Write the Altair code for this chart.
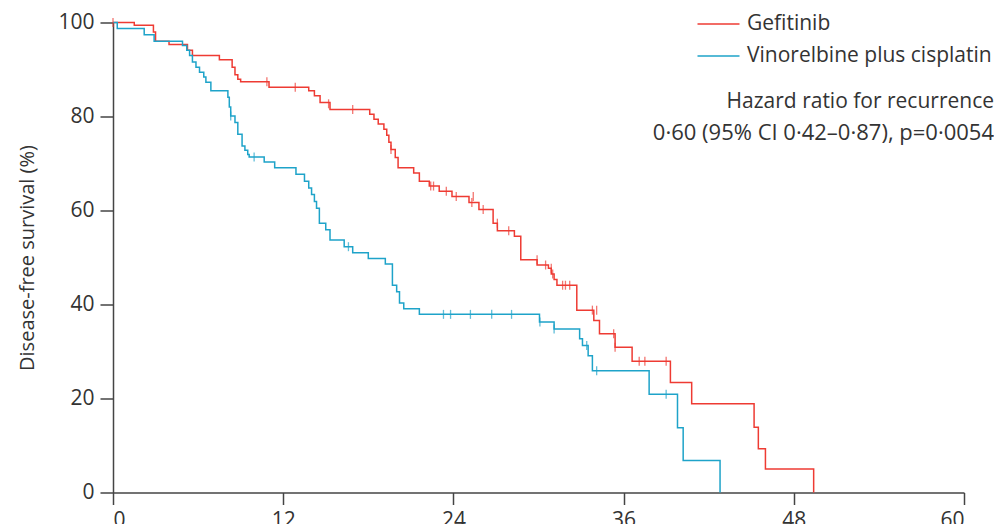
import altair as alt
import pandas as pd

# Kaplan-Meier step points (months, % disease-free)
gef_t = [0, 1.5, 2.85, 3.0, 3.95, 5.25, 5.6, 7.5, 8.4, 8.6, 8.8, 9.0, 11.0, 13.8, 14.2, 14.6, 15.3,
         18.1, 18.4, 18.7, 19.1, 19.3, 19.45, 19.6, 19.9, 20.1, 21.2, 21.6, 22.3, 23.0, 23.9, 25.1,
         25.8, 26.8, 27.1, 28.3, 28.75, 29.9, 30.7, 30.9, 31.1, 31.3, 32.7, 33.9, 34.3, 35.4, 36.6,
         39.3, 40.8, 45.2, 45.5, 46.0, 49.4]
gef_s = [100, 99.4, 98.0, 96.0, 95.3, 94.1, 93.0, 92.1, 90.5, 88.9, 87.9, 87.4, 86.2, 85.5, 84.4, 83.0, 81.5,
         80.5, 79.4, 78.4, 77.3, 76.0, 74.5, 73.0, 71.3, 69.1, 68.0, 66.2, 65.2, 64.1, 63.0, 61.7,
         60.2, 57.3, 55.7, 54.5, 49.5, 48.4, 47.7, 46.5, 45.3, 44.1, 38.8, 36.6, 33.8, 30.9, 27.9,
         23.4, 18.9, 13.9, 9.3, 5.0, 0]

vin_t = [0, 0.3, 2.2, 2.9, 4.9, 5.2, 5.4, 5.6, 5.85, 6.1, 6.4, 6.55, 6.9, 8.1, 8.2, 8.3, 8.6, 8.8,
         9.1, 9.3, 9.5, 9.6, 10.66, 11.4, 12.9, 13.5, 13.8, 14.0, 14.2, 14.35, 14.55, 15.0, 15.3,
         16.3, 16.9, 18.0, 19.2, 19.7, 20.0, 20.2, 20.5, 21.6, 30.07, 31.1, 32.9, 33.1, 33.5, 33.8,
         37.8, 39.8, 40.2, 42.8]
vin_s = [100, 98.7, 97.4, 96.0, 95.1, 94.1, 93.0, 91.6, 90.5, 89.4, 88.4, 87.3, 85.5, 84.1, 82.0, 80.1,
         78.7, 76.2, 73.7, 72.8, 71.9, 71.4, 70.3, 69.1, 67.7, 66.2, 64.8, 63.4, 61.9, 60.5, 57.3,
         55.9, 53.7, 52.3, 51.0, 49.8, 48.6, 44.1, 42.7, 40.3, 39.1, 37.9, 36.3, 34.8, 32.7, 31.3,
         29.1, 25.9, 20.9, 13.8, 6.8, 0]

# Censoring marks
gef_ct = [0, 10.85, 12.85, 15.2, 16.9, 19.6, 22.4, 22.6, 23.5, 24.2, 25.4, 25.3, 26.1, 27.1, 27.9,
          29.9, 30.5, 30.9, 31.0, 31.7, 31.9, 32.2, 33.8, 34.1, 35.3, 35.4, 37.1, 37.5, 39.0]
gef_cs = [100, 87.4, 86.2, 82.7, 81.5, 73.0, 65.2, 65.2, 64.1, 63.0, 63.0, 61.7, 60.2, 57.3, 55.7,
          49.5, 48.4, 47.7, 46.5, 44.1, 44.1, 44.1, 38.8, 38.8, 33.8, 30.9, 27.9, 27.9, 27.9]
vin_ct = [8.3, 9.95, 16.6, 23.3, 23.8, 25.2, 26.7, 28.1, 30.1, 31.1, 33.4, 34.1, 39.0]
vin_cs = [80.1, 71.4, 52.3, 37.9, 37.9, 37.9, 37.9, 37.9, 36.3, 34.8, 31.3, 25.9, 20.9]

groups = ["Gefitinib", "Vinorelbine plus cisplatin"]
colors = ["#ee3b33", "#1ea3c9"]
ann_lines = ["Hazard ratio for recurrence", "0·60 (95% CI 0·42–0·87), p=0·0054"]

curves = pd.concat([
    pd.DataFrame({"t": gef_t, "s": gef_s, "arm": groups[0]}),
    pd.DataFrame({"t": vin_t, "s": vin_s, "arm": groups[1]}),
])
cens = pd.concat([
    pd.DataFrame({"t": gef_ct, "s": gef_cs, "arm": groups[0]}),
    pd.DataFrame({"t": vin_ct, "s": vin_cs, "arm": groups[1]}),
])

FONT = "Open Sans"
TXT = "#333333"
FS = 21

xs = alt.Scale(domain=[0, 60], nice=False, zero=True)
ys = alt.Scale(domain=[0, 100], nice=False)
col = alt.Color("arm:N", scale=alt.Scale(domain=groups, range=colors),
                legend=alt.Legend(title=None, orient="none", legendX=594, legendY=-10,
                                  symbolType="M-2,0H2", symbolSize=441, symbolStrokeWidth=1.5,
                                  labelFontSize=FS, labelFont=FONT, labelColor=TXT, labelLimit=0,
                                  rowPadding=10, labelOffset=17))

lines = alt.Chart(curves).mark_line(interpolate="step-after", strokeWidth=1.5).encode(
    x=alt.X("t:Q", scale=xs,
            axis=alt.Axis(values=[0, 12, 24, 36, 48, 60], title=None, grid=False,
                          domainColor="#444", domainWidth=1.5, tickColor="#444", tickWidth=1.5,
                          tickSize=12, labelFontSize=FS, labelFont=FONT, labelColor=TXT,
                          labelPadding=5)),
    y=alt.Y("s:Q", scale=ys,
            axis=alt.Axis(values=[0, 20, 40, 60, 80, 100], title="Disease-free survival (%)",
                          grid=False, domainColor="#444", domainWidth=1.5, tickColor="#444",
                          tickWidth=1.5, tickSize=13, labelFontSize=FS, labelFont=FONT,
                          labelColor=TXT, labelPadding=6, titleFont=FONT, titleFontSize=20,
                          titleFontWeight="normal", titleColor=TXT, titlePadding=20)),
    color=col,
    order="t:Q",
)

ticks = alt.Chart(cens).mark_tick(orient="vertical", size=9, thickness=1.3).encode(
    x=alt.X("t:Q", scale=xs),
    y=alt.Y("s:Q", scale=ys),
    color=alt.Color("arm:N", scale=alt.Scale(domain=groups, range=colors), legend=None),
)

ann1 = alt.Chart(pd.DataFrame({"txt": [ann_lines[0]]})).mark_text(
    align="right", baseline="middle", fontSize=FS, font=FONT, color=TXT
).encode(text="txt:N", x=alt.value(881), y=alt.value(79))
ann2 = alt.Chart(pd.DataFrame({"txt": [ann_lines[1]]})).mark_text(
    align="right", baseline="middle", fontSize=22, font=FONT, color=TXT
).encode(text="txt:N", x=alt.value(881), y=alt.value(110))

chart = alt.layer(lines, ticks, ann1, ann2).properties(
    width=851, height=470,
    autosize=alt.AutoSizeParams(type="none"),
    padding={"left": 105, "top": 14.5, "right": 30, "bottom": 31},
).configure_view(stroke=None)

chart.save("out.html", embed_options={"renderer": "svg", "actions": False})
